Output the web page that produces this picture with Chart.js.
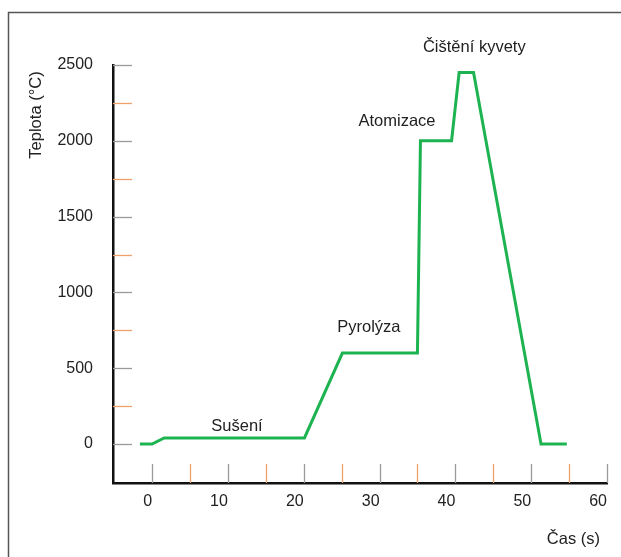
<!DOCTYPE html>
<html>
<head>
<meta charset="utf-8">
<title>Teplotní program</title>
<script src="https://cdn.jsdelivr.net/npm/chart.js@4"></script>
<style>
  html, body { margin: 0; padding: 0; background: #fff; }
  #wrap { width: 621px; height: 557px; }
</style>
</head>
<body>
<div id="wrap"><canvas id="prog"></canvas></div>
<script>
// temperature program (time in s, temperature in °C)
const TIME = [-1.6, 0, 1.6, 20.1, 25.1, 35, 35.4, 39.5, 40.5, 42.4, 51.3, 54.7];
const TEMP = [0, 0, 40, 40, 600, 600, 2000, 2000, 2450, 2450, 0, 0];

const X_TICKS = [0, 10, 20, 30, 40, 50, 60];
const X_MINOR = [5, 15, 25, 35, 45, 55];
const Y_TICKS = [0, 500, 1000, 1500, 2000, 2500];
const Y_MINOR = [250, 750, 1250, 1750, 2250];

const STEP_NAMES = ["Sušení", "Pyrolýza", "Atomizace", "Čištění kyvety"];
const STEP_X = [11.2, 28.6, 32.3, 42.5];
const STEP_Y = [119, 772, 2126, 2619];

const FONT = "'Liberation Sans', Arial, sans-serif";

const decor = {
  id: "decor",
  beforeDraw(chart) {
    const c = chart.ctx;
    c.save();
    c.strokeStyle = "#555";
    c.lineWidth = 1.5;
    c.beginPath();
    c.moveTo(8.5, 557);
    c.lineTo(8.5, 12.5);
    c.lineTo(621, 12.5);
    c.stroke();
    c.restore();
  },
  afterDatasetsDraw(chart) {
    const c = chart.ctx, x = chart.scales.x, y = chart.scales.y, a = chart.chartArea;
    const tick = 19;
    c.save();
    c.lineWidth = 1.3;
    // inner ticks on y axis
    Y_TICKS.forEach(v => {
      const py = Math.round(y.getPixelForValue(v)) + 0.5;
      c.strokeStyle = "#9a9a9a";
      c.beginPath(); c.moveTo(a.left, py); c.lineTo(a.left + tick, py); c.stroke();
    });
    Y_MINOR.forEach(v => {
      const py = Math.round(y.getPixelForValue(v)) + 0.5;
      c.strokeStyle = "#f0a06a";
      c.beginPath(); c.moveTo(a.left, py); c.lineTo(a.left + tick, py); c.stroke();
    });
    // inner ticks on x axis
    X_TICKS.forEach(v => {
      const px = Math.round(x.getPixelForValue(v)) + 0.5;
      c.strokeStyle = "#9a9a9a";
      c.beginPath(); c.moveTo(px, a.bottom); c.lineTo(px, a.bottom - tick); c.stroke();
    });
    X_MINOR.forEach(v => {
      const px = Math.round(x.getPixelForValue(v)) + 0.5;
      c.strokeStyle = "#f0a06a";
      c.beginPath(); c.moveTo(px, a.bottom); c.lineTo(px, a.bottom - tick); c.stroke();
    });
    c.restore();
  },
  afterDraw(chart) {
    const c = chart.ctx, x = chart.scales.x, y = chart.scales.y;
    c.save();
    c.fillStyle = "#222";
    c.font = "16.5px " + FONT;
    c.textAlign = "center";
    c.textBaseline = "middle";
    STEP_NAMES.forEach((t, i) => {
      c.fillText(t, x.getPixelForValue(STEP_X[i]), y.getPixelForValue(STEP_Y[i]));
    });
    // axis titles
    c.textAlign = "right";
    c.fillText("Čas (s)", 600, 539);
    c.translate(36, 115);
    c.rotate(-Math.PI / 2);
    c.textAlign = "center";
    c.fillText("Teplota (°C)", 0, 0);
    c.restore();
  }
};

new Chart(document.getElementById("prog"), {
  type: "line",
  data: {
    datasets: [{
      data: TIME.map((t, i) => ({ x: t, y: TEMP[i] })),
      borderColor: "#1cb350",
      borderWidth: 3,
      pointRadius: 0,
      fill: false,
      tension: 0
    }]
  },
  options: {
    responsive: true,
    maintainAspectRatio: false,
    animation: false,
    events: [],
    layout: { padding: { left: 0, top: 65, right: 14, bottom: 0 } },
    plugins: { legend: { display: false }, tooltip: { enabled: false } },
    scales: {
      x: {
        type: "linear",
        min: -5.15,
        max: 60,
        afterBuildTicks: s => { s.ticks = X_TICKS.map(v => ({ value: v })); },
        afterFit: s => { s.height = 74; },
        grid: { display: false, drawTicks: false },
        border: { display: true, color: "#111", width: 2.5 },
        ticks: { color: "#222", font: { family: FONT, size: 16 }, padding: 9, align: "end", maxRotation: 0, callback: v => String(v) }
      },
      y: {
        type: "linear",
        min: -257,
        max: 2500,
        afterBuildTicks: s => { s.ticks = Y_TICKS.map(v => ({ value: v })); },
        afterFit: s => { s.width = 113; },
        grid: { display: false, drawTicks: false },
        border: { display: true, color: "#111", width: 2.5 },
        ticks: { color: "#222", font: { family: FONT, size: 16 }, padding: 20, callback: v => String(v) }
      }
    }
  },
  plugins: [decor]
});
</script>
</body>
</html>
